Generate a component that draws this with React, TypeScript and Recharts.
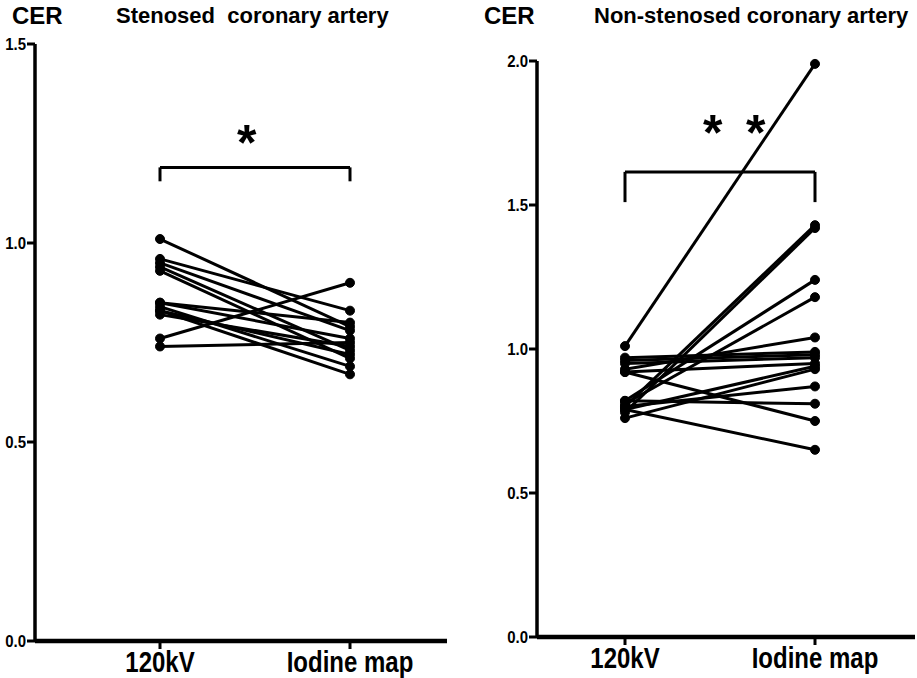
import { LineChart, Line, XAxis, YAxis, ReferenceLine } from "recharts"

const groups = ["120kV", "Iodine map"]

// stenosed coronary artery, one value per patient
const stenosed120 = [1.01, 0.96, 0.95, 0.94, 0.93, 0.85, 0.85, 0.84, 0.83, 0.82, 0.76, 0.74, 0.83]
const stenosedIodine = [0.79, 0.83, 0.78, 0.73, 0.71, 0.8, 0.76, 0.69, 0.67, 0.74, 0.9, 0.75, 0.72]

// non-stenosed coronary artery
const nonStenosed120 = [1.01, 0.8, 0.78, 0.82, 0.81, 0.93, 0.97, 0.96, 0.95, 0.92, 0.79, 0.76, 0.8, 0.82, 0.92, 0.79]
const nonStenosedIodine = [1.99, 1.43, 1.42, 1.24, 1.18, 1.04, 0.99, 0.98, 0.97, 0.95, 0.94, 0.93, 0.87, 0.81, 0.75, 0.65]

const stenosedTicks = [0, 0.5, 1.0, 1.5]
const nonStenosedTicks = [0, 0.5, 1.0, 1.5, 2.0]

const font = "'Liberation Sans', Arial, sans-serif"

function buildRows(before: number[], after: number[]) {
  return groups.map((g, gi) => {
    const row: Record<string, any> = { group: g }
    const src = gi === 0 ? before : after
    src.forEach((v, i) => {
      row["p" + i] = v
    })
    return row
  })
}

function CatTick(props: any) {
  const { x, y, payload } = props
  return (
    <text
      transform={`translate(${x},${y + 21}) scale(1,1.2)`}
      textAnchor="middle"
      fontFamily={font}
      fontWeight="bold"
      fontSize={24}
      fill="#000"
    >
      {payload.value}
    </text>
  )
}

function ValTick(props: any) {
  const { x, y, payload } = props
  return (
    <text
      transform={`translate(${x + 1},${y + 6}) scale(1,1.15)`}
      textAnchor="end"
      fontFamily={font}
      fontWeight="bold"
      fontSize={15}
      fill="#000"
    >
      {Number(payload.value).toFixed(1)}
    </text>
  )
}

type PanelProps = {
  left: number
  width: number
  before: number[]
  after: number[]
  ticks: number[]
  max: number
  margin: { top: number; right: number; bottom: number; left: number }
  pad: { left: number; right: number }
  bracketY: number
  legY: number
}

function Panel(p: PanelProps) {
  const rows = buildRows(p.before, p.after)
  return (
    <div style={{ position: "absolute", left: p.left, top: 0 }}>
      <LineChart width={p.width} height={678} data={rows} margin={p.margin}>
        <XAxis
          dataKey="group"
          padding={p.pad}
          axisLine={{ stroke: "#000", strokeWidth: 4.5 }}
          tickLine={{ stroke: "#000", strokeWidth: 3 }}
          tickSize={8}
          height={37}
          tick={<CatTick />}
          interval={0}
        />
        <YAxis
          type="number"
          domain={[0, p.max]}
          ticks={p.ticks}
          axisLine={{ stroke: "#000", strokeWidth: 3.5 }}
          tickLine={{ stroke: "#000", strokeWidth: 3 }}
          tickSize={8}
          width={35}
          tick={<ValTick />}
        />
        <ReferenceLine segment={[{ x: groups[0], y: p.bracketY }, { x: groups[1], y: p.bracketY }]} stroke="#000" strokeWidth={3} />
        <ReferenceLine segment={[{ x: groups[0], y: p.legY }, { x: groups[0], y: p.bracketY }]} stroke="#000" strokeWidth={3} />
        <ReferenceLine segment={[{ x: groups[1], y: p.legY }, { x: groups[1], y: p.bracketY }]} stroke="#000" strokeWidth={3} />
        {p.before.map((_, i) => (
          <Line
            key={i}
            dataKey={"p" + i}
            stroke="#000"
            strokeWidth={3}
            dot={{ r: 4.5, fill: "#000", stroke: "#000", strokeWidth: 1 }}
            isAnimationActive={false}
          />
        ))}
      </LineChart>
    </div>
  )
}

const txt = { position: "absolute" as const, fontFamily: font, fontWeight: "bold" as const, color: "#000", whiteSpace: "pre" as const, lineHeight: 1 }

export default function App() {
  return (
    <div style={{ position: "absolute", left: 0, top: 0, width: 917, height: 678, background: "#fff", overflow: "hidden" }}>
      <div style={{ ...txt, left: 12, top: 4, fontSize: 24 }}>CER</div>
      <div style={{ ...txt, left: 116, top: 5, fontSize: 22 }}>Stenosed  coronary artery</div>
      <div style={{ ...txt, left: 484, top: 4, fontSize: 24 }}>CER</div>
      <div style={{ ...txt, left: 594, top: 5, fontSize: 22 }}>Non-stenosed coronary artery</div>
      <div style={{ ...txt, left: 237, top: 118, fontSize: 50 }}>*</div>
      <div style={{ ...txt, left: 703, top: 108, fontSize: 50 }}>*</div>
      <div style={{ ...txt, left: 746, top: 108, fontSize: 50 }}>*</div>
      <Panel
        left={0}
        width={460}
        before={stenosed120}
        after={stenosedIodine}
        ticks={stenosedTicks}
        max={1.5}
        margin={{ top: 44, right: 13, bottom: 0, left: 0 }}
        pad={{ left: 125, right: 97 }}
        bracketY={1.19}
        legY={1.155}
      />
      <Panel
        left={460}
        width={457}
        before={nonStenosed120}
        after={nonStenosedIodine}
        ticks={nonStenosedTicks}
        max={2}
        margin={{ top: 61, right: 2, bottom: 4, left: 42 }}
        pad={{ left: 88, right: 100 }}
        bracketY={1.615}
        legY={1.51}
      />
    </div>
  )
}
